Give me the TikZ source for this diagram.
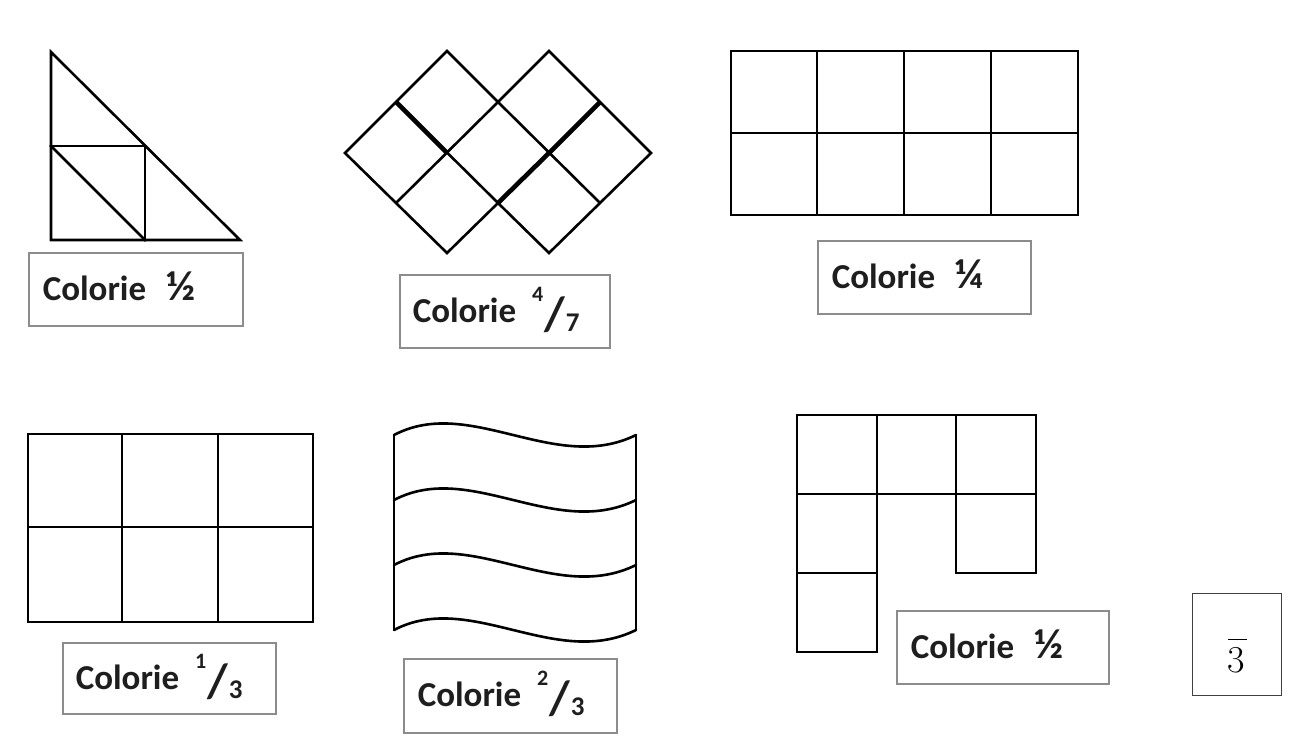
\documentclass[tikz,border=0pt]{standalone}
\usepackage[no-math]{fontspec}
\setmainfont{Carlito}
\newfontfamily\lmfont{Latin Modern Roman}
\definecolor{txtcol}{HTML}{1E1E1E}
\definecolor{boxcol}{HTML}{8C8C8C}
\newcommand{\myfrac}[2]{\raisebox{21pt}{\fontsize{22}{22}\selectfont #1}\hspace{1.5pt}\raisebox{-8pt}{\fontsize{48}{48}\selectfont /}\hspace{0.5pt}\raisebox{-9pt}{\fontsize{27}{27}\selectfont #2}}
\tikzset{
  fig/.style={line width=2.6pt, line join=miter, line cap=rect},
  inner fig/.style={line width=2.6pt, line cap=butt},
  thick fig/.style={line width=4.6pt, line cap=butt, line join=miter},
  lbl/.style={draw=boxcol, line width=1.5pt, anchor=north west, inner ysep=0pt,
    inner xsep=14pt, align=left, text=txtcol, font=\fontsize{35}{40}\selectfont\bfseries,
    text height=22pt, text depth=0pt},
}
\begin{document}
\begin{tikzpicture}[x=1pt,y=-1pt]
\useasboundingbox (0,0) rectangle (1289,749);
\fill[white] (0,0) rectangle (1289,749);

% triangle
\draw[fig] (51,52) -- (51,240) -- (240,240) -- cycle;
\draw[fig] (51,146) -- (145,146) -- (145,240);
\draw[fig] (51,146) -- (145,240);
\node[lbl, minimum width=214pt, minimum height=73pt, text width=186pt] (l1) at (28,252) {Colorie\hspace{20pt}\fontsize{42}{40}\selectfont ½};

% diamond grid
\draw[fig, line cap=butt] (345,153) -- (447,51) -- (498,102) -- (549,51) -- (651,153) -- (549,253) -- (498,203) -- (447,253) -- cycle;
\draw[inner fig] (498,102) -- (600,203);
\draw[inner fig] (396,102) -- (498,203);
\draw[inner fig] (396,203) -- (498,102);
\draw[inner fig] (498,203) -- (600,102);
\draw[thick fig] (396,102) -- (447,153);
\draw[thick fig] (600,102) -- (549,153) -- (498,203);
\node[lbl, minimum width=210pt, minimum height=73pt, text width=184pt, inner xsep=11pt] (l2) at (399,274) {Colorie\hspace{16pt}\myfrac{4}{7}};

% 4x2 rectangle
\draw[fig] (731,51) rectangle (1078,215);
\draw[inner fig] (731,133) -- (1078,133);
\foreach \xx in {817,904,991} \draw[inner fig] (\xx,51) -- (\xx,215);
\node[lbl, minimum width=213pt, minimum height=73pt, text width=185pt] (l3) at (817,240) {Colorie\hspace{20pt}\fontsize{42}{40}\selectfont ¼};

% 3x2 rectangle
\draw[fig] (28,434) rectangle (313,622);
\draw[inner fig] (28,527) -- (313,527);
\foreach \xx in {122,218} \draw[inner fig] (\xx,434) -- (\xx,622);
\node[lbl, minimum width=213pt, minimum height=71pt, text width=187pt, inner xsep=13pt] (l4) at (62,642) {Colorie\hspace{16pt}\myfrac{1}{3}};

% wavy flag
\foreach \yy in {435,500,565,630}
  \draw[fig, line cap=round] (394,\yy) .. controls (470,\yy-40) and (555,\yy+40) .. (636,\yy);
\draw[fig] (394,435) -- (394,630);
\draw[fig] (636,435) -- (636,630);
\node[lbl, minimum width=213pt, minimum height=74pt, text width=185pt] (l5) at (403,658) {Colorie\hspace{16pt}\myfrac{2}{3}};

% L shape
\draw[fig] (797,415) -- (1036,415) -- (1036,573) -- (956,573) -- (956,494) -- (877,494) -- (877,652) -- (797,652) -- cycle;
\draw[inner fig] (877,415) -- (877,494);
\draw[inner fig] (956,415) -- (956,494);
\draw[inner fig] (797,494) -- (877,494);
\draw[inner fig] (797,573) -- (877,573);
\draw[inner fig] (956,494) -- (1036,494);
\node[lbl, minimum width=212pt, minimum height=73pt, text width=184pt] (l6) at (896,610) {Colorie\hspace{20pt}\fontsize{42}{40}\selectfont ½};

% box with 3
\node[draw=black!75, line width=1pt, minimum width=89pt, minimum height=102pt, anchor=north west, inner sep=0pt, font=\lmfont\fontsize{38}{40}\selectfont] (b3) at (1192,593) {\vbox{\offinterlineskip\vskip 23pt\hbox{\vrule width 19pt height 1.6pt}\vskip 7pt\hbox{3}}};
\end{tikzpicture}
\end{document}
